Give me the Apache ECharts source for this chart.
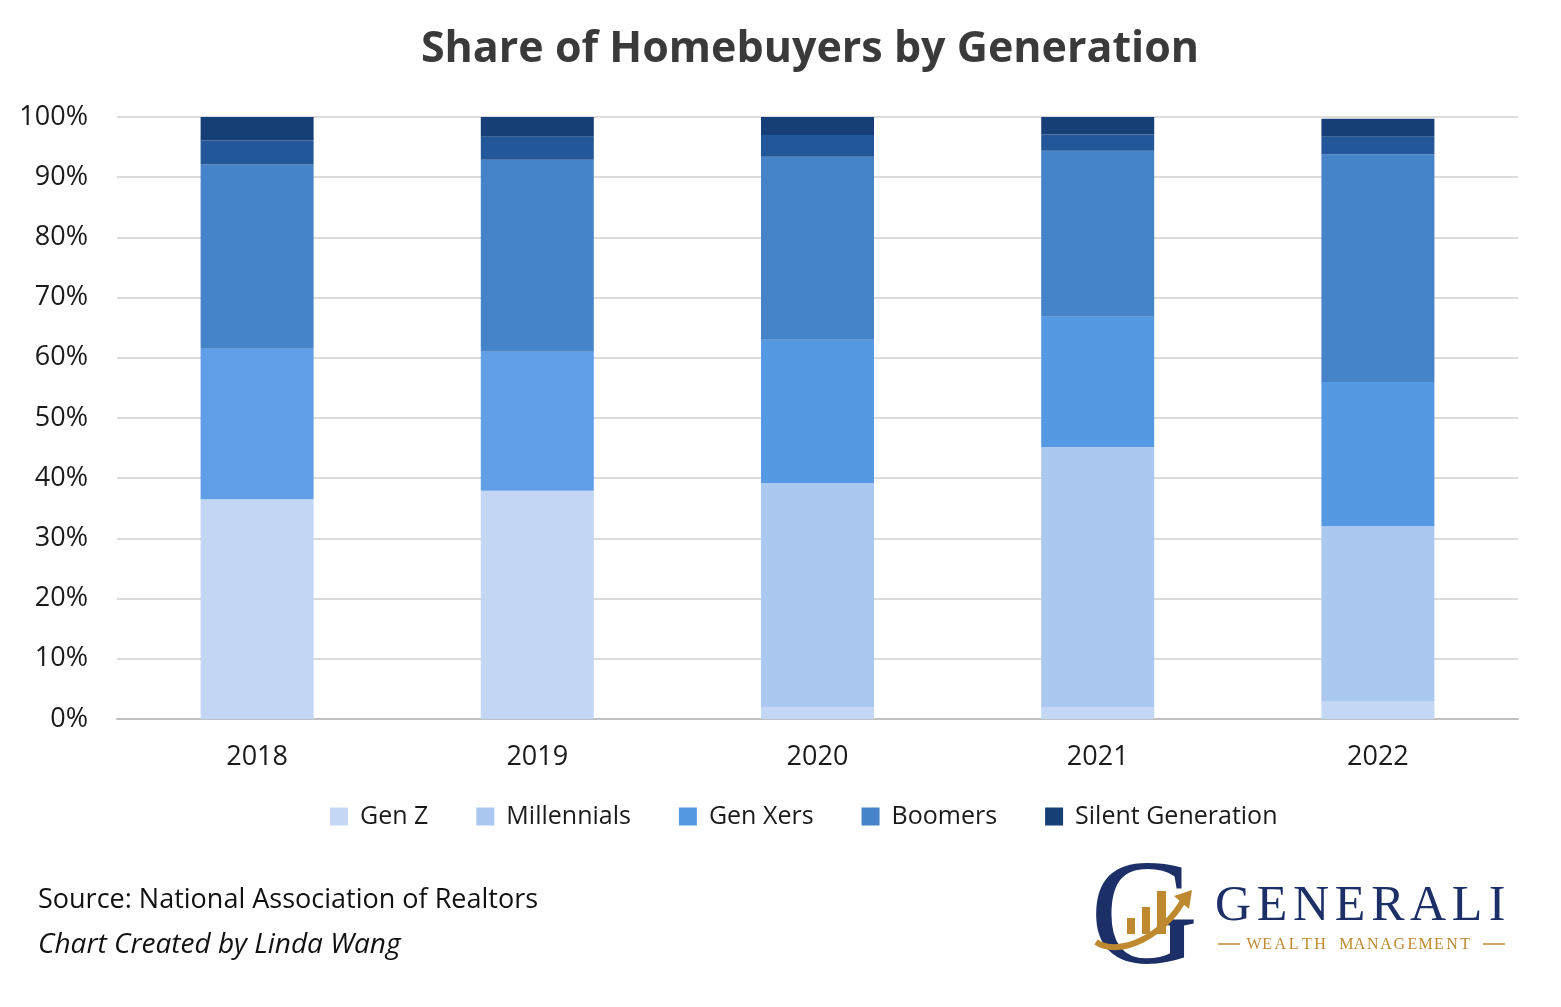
<!DOCTYPE html>
<html><head><meta charset="utf-8">
<script src="https://cdn.jsdelivr.net/npm/echarts@6/dist/echarts.min.js"></script>
<style>html,body{margin:0;padding:0;background:#fff}#c{width:1561px;height:1007px}</style>
</head><body><div id="c"></div>
<script>
const years = ['2018', '2019', '2020', '2021', '2022'];
const genZ = [0, 0, 2, 2, 3];
const millennials = [36.5, 37.9, 37.2, 43.2, 29.0];
const genX = [25.0, 23.1, 23.8, 21.6, 24.0];
const boomers = [30.6, 31.9, 30.4, 27.6, 37.8];
const olderBoomers = [4.0, 3.8, 3.6, 2.7, 2.9];
const silent = [3.9, 3.3, 3.0, 2.9, 3.0];
const yTicks = [0, 10, 20, 30, 40, 50, 60, 70, 80, 90, 100];
const legendNames = ['Gen Z', 'Millennials', 'Gen Xers', 'Boomers', 'Silent Generation'];

const FONT = 'Open Sans';
const colors = {
  'Gen Z': '#c4d8f5', 'Millennials': '#abc8f0', 'Gen Xers': '#5599e3',
  'Boomers': '#4584c9', 'Older Boomers': '#235799', 'Silent Generation': '#163f78'
};
// early years drawn with lighter shades in the reference
function styled(arr, name) {
  return arr.map((v, i) => {
    if (name === 'Millennials' && i < 2) return { value: v, itemStyle: { color: '#c3d7f4' } };
    if (name === 'Gen Xers' && i < 2) return { value: v, itemStyle: { color: '#609fe7' } };
    return v;
  });
}
const seriesDefs = [
  ['Gen Z', genZ], ['Millennials', millennials], ['Gen Xers', genX],
  ['Boomers', boomers], ['Older Boomers', olderBoomers], ['Silent Generation', silent]
];

const gold = '#bf8a2f', navy = '#1c2f66';
const word = 'GENERALI';
const wordCenters = [1233, 1272, 1311, 1350, 1388, 1428, 1467, 1497];
const graphics = [];
for (let i = 0; i < word.length; i++) {
  graphics.push({ type: 'text', x: wordCenters[i], y: 907,
    style: { text: word[i], font: '50px "Liberation Serif"', fill: navy, textAlign: 'center', textVerticalAlign: 'middle' } });
}
const sub = 'WEALTH MANAGEMENT';
for (let i = 0; i < sub.length; i++) {
  graphics.push({ type: 'text', x: 1254 + i * 13.2, y: 945,
    style: { text: sub[i], font: '16px "Liberation Serif"', fill: gold, textAlign: 'center', textVerticalAlign: 'middle' } });
}
graphics.push(
  { type: 'line', shape: { x1: 1218, y1: 944, x2: 1240, y2: 944 }, style: { stroke: gold, lineWidth: 1.5 } },
  { type: 'line', shape: { x1: 1483, y1: 944, x2: 1505, y2: 944 }, style: { stroke: gold, lineWidth: 1.5 } },
  { type: 'text', left: 1090, top: 849, style: { text: 'G', font: '150px "Liberation Serif"', fill: navy } },
  { type: 'rect', shape: { x: 1127, y: 918, width: 8, height: 16 }, style: { fill: gold } },
  { type: 'rect', shape: { x: 1142, y: 907, width: 8, height: 27 }, style: { fill: gold } },
  { type: 'rect', shape: { x: 1157, y: 891, width: 9, height: 43 }, style: { fill: gold } },
  { type: 'bezierCurve', shape: { x1: 1096, y1: 942, cpx1: 1120, cpy1: 958, cpx2: 1165, cpy2: 935, x2: 1184, y2: 899 },
    style: { stroke: gold, lineWidth: 6, fill: null } },
  { type: 'polygon', shape: { points: [[1174, 896], [1192, 890], [1189, 909]] }, style: { fill: gold } },
  { type: 'text', x: 38, y: 900, style: { text: 'Source: National Association of Realtors', font: '27px "Open Sans"', fill: '#111', textVerticalAlign: 'middle' } },
  { type: 'text', x: 38, y: 945, style: { text: 'Chart Created by Linda Wang', font: 'italic 28px "Open Sans"', fill: '#111', textVerticalAlign: 'middle' } }
);

const chart = echarts.init(document.getElementById('c'), null, { renderer: 'canvas' });
chart.setOption({
  animation: false,
  backgroundColor: '#fff',
  title: {
    text: 'Share of Homebuyers by Generation', left: 805, top: 23, textAlign: 'center',
    textStyle: { fontFamily: FONT, fontWeight: 'bold', fontSize: 43, color: '#3a3a3a' }
  },
  grid: { left: 117, right: 43, top: 117, bottom: 288, containLabel: false },
  legend: {
    data: legendNames, top: 799, left: 325, icon: 'rect', itemWidth: 18, itemHeight: 18,
    itemGap: 48, textStyle: { fontFamily: FONT, fontSize: 25, color: '#1a1a1a', padding: [0, 0, 0, 7] }
  },
  xAxis: {
    type: 'category', data: years,
    axisLine: { lineStyle: { color: '#c0c0c0', width: 2 } }, axisTick: { show: false },
    axisLabel: { fontFamily: FONT, fontSize: 27, color: '#1a1a1a', margin: 25 }
  },
  yAxis: {
    type: 'value', min: 0, max: 100, interval: 10,
    axisLine: { show: false }, axisTick: { show: false },
    splitLine: { lineStyle: { color: '#dcdcdc', width: 2 } },
    axisLabel: { fontFamily: FONT, fontSize: 27, color: '#1a1a1a', margin: 29,
      formatter: v => yTicks.includes(v) ? v + '%' : '' }
  },
  series: seriesDefs.map(([name, arr]) => ({
    name, type: 'bar', stack: 'all', barWidth: 113, data: styled(arr, name),
    itemStyle: { color: colors[name] }
  })),
  graphic: graphics
});
</script></body></html>
